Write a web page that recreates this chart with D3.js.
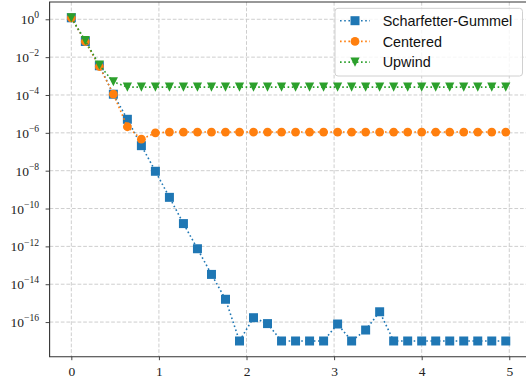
<!DOCTYPE html>
<html>
<head>
<meta charset="utf-8">
<script src="https://cdn.jsdelivr.net/npm/d3@7"></script>
<style>
  html, body { margin: 0; padding: 0; background: #fff; }
  svg { display: block; }
</style>
</head>
<body>
<svg id="chart" width="526" height="381"></svg>
<script>
// Grid points (mesh size h = 0.16)
const xValues = [0, 0.16, 0.32, 0.48, 0.64, 0.8, 0.96, 1.12, 1.28, 1.44, 1.6, 1.76,
  1.92, 2.08, 2.24, 2.4, 2.56, 2.72, 2.88, 3.04, 3.2, 3.36, 3.52, 3.68,
  3.84, 4.0, 4.16, 4.32, 4.48, 4.64, 4.8, 4.96];

// Error per scheme
const scharfetterGummel = [1.2, 6.7e-2, 3.5e-3, 1.1e-4, 5.2e-6, 2.1e-7, 9.3e-9, 3.9e-10,
  1.6e-11, 7.5e-13, 3.3e-14, 1.6e-15, 1.0e-17, 1.7e-16, 8.3e-17, 1.0e-17,
  1.0e-17, 1.0e-17, 1.0e-17, 7.9e-17, 1.0e-17, 3.8e-17, 3.5e-16, 1.0e-17,
  1.0e-17, 1.0e-17, 1.0e-17, 1.0e-17, 1.0e-17, 1.0e-17, 1.0e-17, 1.0e-17];
const centered = [1.2, 6.7e-2, 3.2e-3, 1.1e-4, 2.1e-6, 4.6e-7, 1.0e-6, 1.1e-6,
  1.1e-6, 1.1e-6, 1.1e-6, 1.1e-6, 1.1e-6, 1.1e-6, 1.1e-6, 1.1e-6,
  1.1e-6, 1.1e-6, 1.1e-6, 1.1e-6, 1.1e-6, 1.1e-6, 1.1e-6, 1.1e-6,
  1.1e-6, 1.1e-6, 1.1e-6, 1.1e-6, 1.1e-6, 1.1e-6, 1.1e-6, 1.1e-6];
const upwind = [1.2, 7.4e-2, 3.8e-3, 5.0e-4, 2.6e-4, 2.6e-4, 2.6e-4, 2.6e-4,
  2.6e-4, 2.6e-4, 2.6e-4, 2.6e-4, 2.6e-4, 2.6e-4, 2.6e-4, 2.6e-4,
  2.6e-4, 2.6e-4, 2.6e-4, 2.6e-4, 2.6e-4, 2.6e-4, 2.6e-4, 2.6e-4,
  2.6e-4, 2.6e-4, 2.6e-4, 2.6e-4, 2.6e-4, 2.6e-4, 2.6e-4, 2.6e-4];

const seriesNames = ["Scharfetter-Gummel", "Centered", "Upwind"];
const seriesColors = ["#1f77b4", "#ff7f0e", "#2ca02c"];
const seriesMarkers = ["square", "circle", "triangleDown"];

const xTicks = [0, 1, 2, 3, 4, 5];
const yTickExponents = [0, -2, -4, -6, -8, -10, -12, -14, -16];

const svg = d3.select("#chart");

// Axes box (the right edge sits just past the canvas)
const boxLeft = 49.6, boxRight = 527.5, boxTop = 2, boxBottom = 356.7;

const x = d3.scaleLinear().domain([-0.248, 5.208]).range([boxLeft, boxRight]);
const y = d3.scaleLog().domain([Math.pow(10, -17.83), Math.pow(10, 0.914)]).range([boxBottom, boxTop]);

const series = [scharfetterGummel, centered, upwind].map((vals, k) => ({
  name: seriesNames[k], color: seriesColors[k], marker: seriesMarkers[k],
  points: xValues.map((xv, i) => ({ x: xv, y: vals[i] }))
}));

// Grid
const grid = svg.append("g").attr("stroke", "#c8c8c8").attr("stroke-width", 0.9)
  .attr("stroke-dasharray", "3.7,1.9");
grid.selectAll("line.gx").data(xTicks).join("line").attr("class", "gx")
  .attr("x1", d => x(d)).attr("x2", d => x(d)).attr("y1", boxTop).attr("y2", boxBottom);
grid.selectAll("line.gy").data(yTickExponents).join("line").attr("class", "gy")
  .attr("x1", boxLeft).attr("x2", boxRight)
  .attr("y1", d => y(Math.pow(10, d))).attr("y2", d => y(Math.pow(10, d)));

// Marker shapes
function markerPath(type) {
  if (type === "square") return d3.symbol(d3.symbolSquare, 81)();
  if (type === "circle") return d3.symbol(d3.symbolCircle, Math.PI * 4.4 * 4.4)();
  // downward-pointing triangle, centred on its bounding box
  const h = 4.6;
  return `M${-h},${-h}L${h},${-h}L0,${h}Z`;
}

const line = d3.line().x(d => x(d.x)).y(d => y(d.y));

const plot = svg.append("g");
series.forEach(s => {
  const g = plot.append("g");
  g.append("path").datum(s.points)
    .attr("d", line).attr("fill", "none").attr("stroke", s.color)
    .attr("stroke-width", 1.6).attr("stroke-dasharray", "1.6,2.6");
  g.selectAll("path.m").data(s.points).join("path")
    .attr("class", "m")
    .attr("d", markerPath(s.marker))
    .attr("transform", d => `translate(${x(d.x)},${y(d.y)})`)
    .attr("fill", s.color);
});

// Axes
const serif = "'Liberation Serif', 'DejaVu Serif', serif";

const xAxis = svg.append("g").attr("transform", `translate(0,${boxBottom})`)
  .call(d3.axisBottom(x).tickValues(xTicks).tickSize(3.5).tickPadding(4).tickFormat(d3.format("d")));
xAxis.select(".domain").remove();
xAxis.selectAll(".tick line").attr("stroke", "#333").attr("stroke-width", 0.9);
xAxis.selectAll(".tick text").attr("font-family", serif).attr("font-size", 13.5)
  .attr("fill", "#222").attr("dy", "0.9em");

const yAxis = svg.append("g").attr("transform", `translate(${boxLeft},0)`)
  .call(d3.axisLeft(y).tickValues(yTickExponents.map(e => Math.pow(10, e)))
    .tickSize(4).tickFormat(() => ""));
yAxis.select(".domain").remove();
yAxis.selectAll(".tick line").attr("stroke", "#333").attr("stroke-width", 0.9);
yAxis.selectAll(".tick text").remove();
yAxis.selectAll(".tick").each(function(d) {
  const e = Math.round(Math.log10(d));
  const t = d3.select(this).append("text")
    .attr("x", -10.5).attr("y", 4.5)
    .attr("text-anchor", "end")
    .attr("font-family", serif).attr("fill", "#222");
  t.append("tspan").attr("font-size", 13.5).text("10");
  t.append("tspan").attr("font-size", 9.6).attr("dy", -5.8)
    .text(e < 0 ? "\u2212" + (-e) : String(e));
});

// Spines
const spines = svg.append("g").attr("stroke", "#333").attr("stroke-width", 1.1).attr("fill", "none");
spines.append("path").attr("d", `M${boxRight},${boxTop}H${boxLeft}V${boxBottom}H${boxRight}`);

// Legend
const legend = svg.append("g").attr("transform", "translate(335,8.3)");
legend.append("rect").attr("width", 187.5).attr("height", 67.7).attr("rx", 3)
  .attr("fill", "#fff").attr("fill-opacity", 0.8)
  .attr("stroke", "#d0d0d0").attr("stroke-width", 1);
series.forEach((s, k) => {
  const row = legend.append("g").attr("transform", `translate(0,${12.4 + k * 20.7})`);
  row.append("line").attr("x1", 5).attr("x2", 35).attr("y1", 0).attr("y2", 0)
    .attr("stroke", s.color).attr("stroke-width", 1.6).attr("stroke-dasharray", "1.6,2.6");
  row.append("path").attr("d", markerPath(s.marker))
    .attr("transform", "translate(20,0)").attr("fill", s.color);
  row.append("text").attr("x", 47.7).attr("y", 5.2)
    .attr("font-family", "'Liberation Sans', Arial, sans-serif")
    .attr("font-size", 14.4).attr("fill", "#111").text(s.name);
});
</script>
</body>
</html>
